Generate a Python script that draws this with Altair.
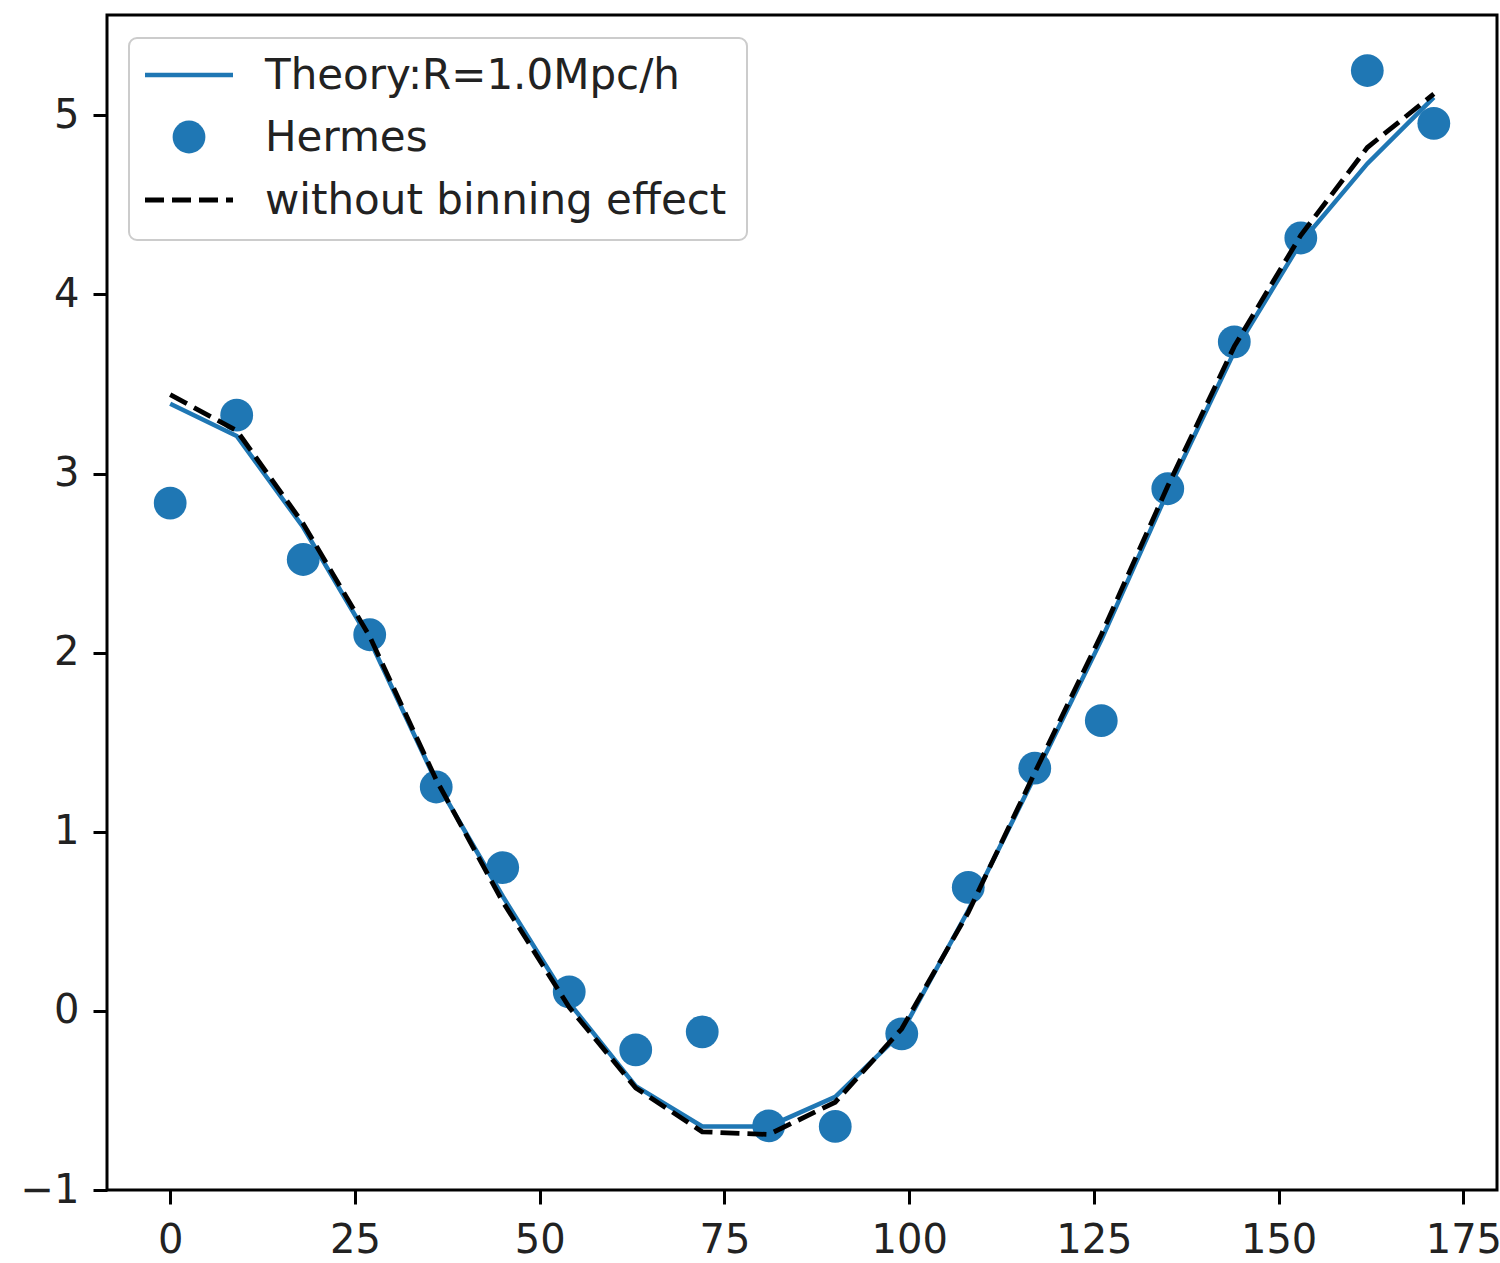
import altair as alt
import pandas as pd

angle = [0, 9, 18, 27, 36, 45, 54, 63, 72, 81, 90, 99, 108, 117, 126, 135, 144, 153, 162, 171]
hermes = [2.835, 3.326, 2.52, 2.10, 1.25, 0.80, 0.106, -0.218, -0.117, -0.642,
          -0.645, -0.128, 0.69, 1.355, 1.62, 2.915, 3.735, 4.315, 5.25, 4.955]
theory = [3.39, 3.21, 2.70, 2.07, 1.28, 0.64, 0.045, -0.42, -0.645, -0.645,
          -0.48, -0.12, 0.56, 1.31, 2.07, 2.90, 3.68, 4.29, 4.73, 5.10]
nobin = [3.44, 3.24, 2.72, 2.09, 1.29, 0.61, 0.02, -0.43, -0.675, -0.69,
         -0.51, -0.10, 0.55, 1.33, 2.10, 2.93, 3.71, 4.33, 4.82, 5.12]

legend_labels = ["Theory:R=1.0Mpc/h", "Hermes", "without binning effect"]

df = pd.DataFrame({"angle": angle, "hermes": hermes, "theory": theory, "nobin": nobin})

BLUE = "#1f77b4"
FONT = "DejaVu Sans"
FS = 40
LFS = 42

xs = alt.Scale(domain=[-8.55, 179.55], nice=False, zero=False)
ys = alt.Scale(domain=[-1.0, 5.56], nice=False, zero=False)

xax = alt.Axis(values=[0, 25, 50, 75, 100, 125, 150, 175], title=None, grid=False,
               domain=False, tickSize=14, tickWidth=3, tickColor="black", format="d",
               labelFontSize=FS, labelFont=FONT, labelColor="#222", labelPadding=16)
yax = alt.Axis(values=[-1, 0, 1, 2, 3, 4, 5], title=None, grid=False,
               domain=False, tickSize=14, tickWidth=3, tickColor="black", format="d",
               labelFontSize=FS, labelFont=FONT, labelColor="#222", labelPadding=14)

base = alt.Chart(df)

theory_line = base.mark_line(color=BLUE, strokeWidth=4.5).encode(
    x=alt.X("angle:Q", scale=xs, axis=xax),
    y=alt.Y("theory:Q", scale=ys, axis=yax),
)
points = base.mark_circle(color=BLUE, size=1075, opacity=1).encode(
    x=alt.X("angle:Q", scale=xs),
    y=alt.Y("hermes:Q", scale=ys),
)
nobin_line = base.mark_line(color="black", strokeWidth=4.8, strokeDash=[19, 8]).encode(
    x=alt.X("angle:Q", scale=xs),
    y=alt.Y("nobin:Q", scale=ys),
)

one = pd.DataFrame({"a": [0]})

# legend (pixel positions inside the plot area)
leg_box = alt.Chart(one).mark_rect(
    fill="white", fillOpacity=0.8, stroke="#cccccc", strokeWidth=2, cornerRadius=8
).encode(x=alt.value(22), x2=alt.value(640), y=alt.value(23), y2=alt.value(225))

leg_line1 = alt.Chart(one).mark_rule(color=BLUE, strokeWidth=4.5).encode(
    x=alt.value(38), x2=alt.value(126), y=alt.value(60))
leg_dot = alt.Chart(one).mark_circle(color=BLUE, size=1075, opacity=1).encode(
    x=alt.value(82), y=alt.value(122))
leg_line3 = alt.Chart(one).mark_rule(
    color="black", strokeWidth=4.8, strokeDash=[19, 8]).encode(
    x=alt.value(38), x2=alt.value(126), y=alt.value(185))

row_y = [61, 123, 186]
leg_texts = [
    alt.Chart(pd.DataFrame({"label": [lab]})).mark_text(
        align="left", baseline="middle", font=FONT, fontSize=LFS, color="#222"
    ).encode(x=alt.value(158), y=alt.value(yy), text="label:N")
    for lab, yy in zip(legend_labels, row_y)
]

chart = alt.layer(
    theory_line, points, nobin_line, leg_box, leg_line1, leg_dot, leg_line3, *leg_texts
).properties(
    width=1390, height=1175,
    background="white",
    autosize=alt.AutoSizeParams(type="none"),
    padding={"left": 107, "top": 15, "right": 3, "bottom": 73},
).configure_view(stroke="black", strokeWidth=3)

chart.save("out.html", embed_options={"renderer": "svg", "actions": False})
